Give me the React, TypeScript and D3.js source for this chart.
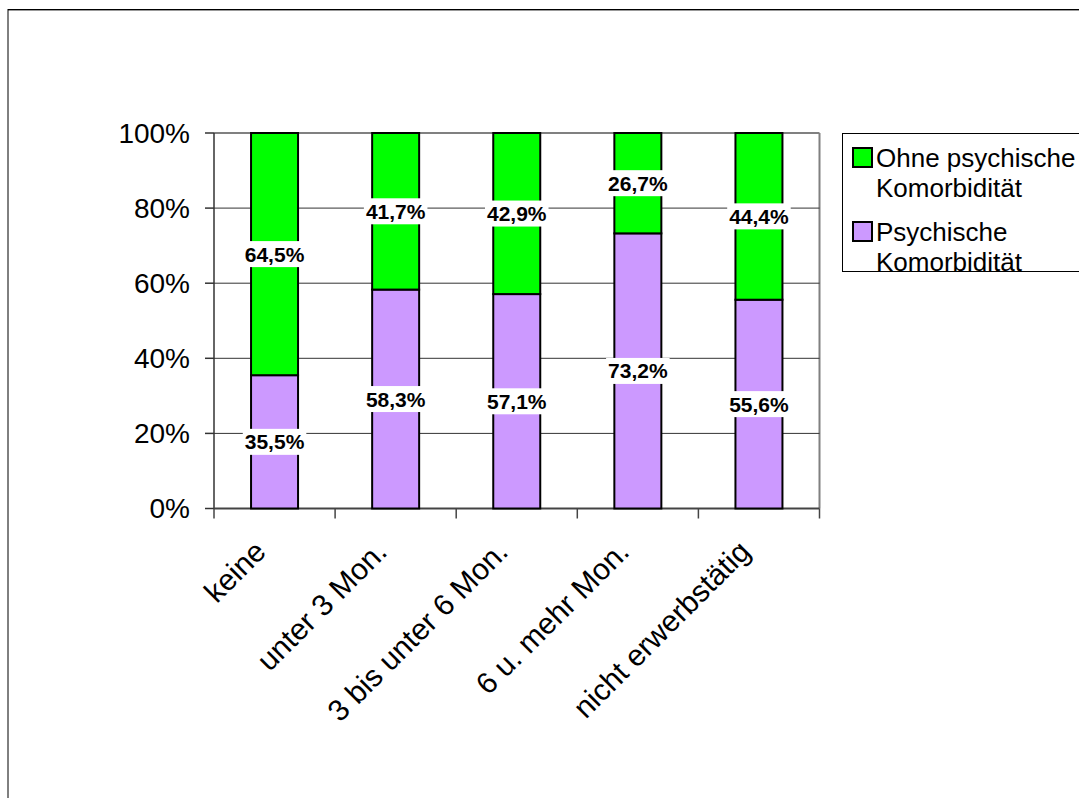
import React from "react";
import * as d3 from "d3";

// Employment interruption categories and the share of each comorbidity group (%)
const categories = ["keine", "unter 3 Mon.", "3 bis unter 6 Mon.", "6 u. mehr Mon.", "nicht erwerbstätig"];
const psychische = [35.5, 58.3, 57.1, 73.2, 55.6];
const ohnePsychische = [64.5, 41.7, 42.9, 26.7, 44.4];
const yTicks = [0, 20, 40, 60, 80, 100];

const seriesNames = ["Psychische Komorbidität", "Ohne psychische Komorbidität"];
const seriesColors = ["#CC99FF", "#00FF00"];

const W = 1079;
const H = 798;
const FONT = "'Liberation Sans', Arial, sans-serif";

const plot = { left: 214, right: 819.5, top: 133, bottom: 508.5 };

export default function App() {
  const x = d3.scaleBand<string>().domain(categories).range([plot.left, plot.right]).paddingInner(0).paddingOuter(0);
  const y = d3.scaleLinear().domain([0, 100]).range([plot.bottom, plot.top]);

  // 100% stacked: normalise each category to its total
  const rows = categories.map((c, i) => {
    const total = psychische[i] + ohnePsychische[i];
    return { cat: c, p: (psychische[i] / total) * 100, o: (ohnePsychische[i] / total) * 100 };
  });
  const stack = d3.stack<any>().keys(["p", "o"])(rows);
  const values = [psychische, ohnePsychische];

  const bw = 47;
  const labelFont = 21;

  const fmt = (v: number) => v.toFixed(1).replace(".", ",") + "%";

  const legendItems = [
    { color: seriesColors[1], lines: ["Ohne psychische", "Komorbidität"] },
    { color: seriesColors[0], lines: ["Psychische", "Komorbidität"] },
  ];

  return (
    <svg width={W} height={H} style={{ display: "block", position: "absolute", left: 0, top: 0 }} fontFamily={FONT}>
      <rect x={0} y={0} width={W} height={H} fill="#fff" />
      {/* outer chart frame */}
      <line x1={8} y1={10.5} x2={W} y2={10.5} stroke="#999" strokeWidth={1} />
      <line x1={8} y1={9.5} x2={W} y2={9.5} stroke="#000" strokeWidth={1} />
      <line x1={8} y1={9} x2={8} y2={H} stroke="#000" strokeWidth={1} />

      {/* plot area border */}
      <line x1={plot.left} y1={plot.top} x2={plot.right} y2={plot.top} stroke="#808080" strokeWidth={2} />
      <line x1={plot.right} y1={plot.top} x2={plot.right} y2={plot.bottom} stroke="#808080" strokeWidth={2} />

      {/* gridlines and y axis */}
      {yTicks.map((t) => (
        <g key={t}>
          {t > 0 && t < 100 && (
            <line x1={plot.left} x2={plot.right} y1={y(t)} y2={y(t)} stroke="#333" strokeWidth={1} />
          )}
          <line x1={205} x2={plot.left} y1={y(t)} y2={y(t)} stroke="#333" strokeWidth={1.5} />
          <text x={190} y={y(t)} dy="0.35em" textAnchor="end" fontSize={28} fill="#000">
            {t}%
          </text>
        </g>
      ))}
      <line x1={plot.left} x2={plot.left} y1={plot.top} y2={plot.bottom} stroke="#333" strokeWidth={1.5} />
      <line x1={plot.left} x2={plot.right} y1={plot.bottom} y2={plot.bottom} stroke="#444" strokeWidth={2} />
      {d3.range(categories.length + 1).map((i) => {
        const xx = plot.left + i * x.bandwidth();
        return <line key={i} x1={xx} x2={xx} y1={plot.bottom} y2={plot.bottom + 10} stroke="#444" strokeWidth={1.5} />;
      })}

      {/* bars */}
      {stack.map((layer, si) => (
        <g key={si}>
          {layer.map((d, i) => {
            const cx = (x(categories[i]) as number) + x.bandwidth() / 2;
            return (
              <rect
                key={i}
                x={cx - bw / 2}
                y={y(d[1])}
                width={bw}
                height={y(d[0]) - y(d[1])}
                fill={seriesColors[si]}
                stroke="#000"
                strokeWidth={2}
              />
            );
          })}
        </g>
      ))}

      {/* value labels */}
      {stack.map((layer, si) =>
        layer.map((d, i) => {
          const cx = (x(categories[i]) as number) + x.bandwidth() / 2;
          const cy = y((d[0] + d[1]) / 2);
          const txt = fmt(values[si][i]);
          const tw = txt.length * 0.567 * labelFont;
          return (
            <g key={`${si}-${i}`}>
              <rect x={cx - tw / 2 - 2} y={cy - 13} width={tw + 4} height={26} fill="#fff" />
              <text x={cx} y={cy} dy="0.36em" textAnchor="middle" fontSize={labelFont} fontWeight="bold" fill="#000">
                {txt}
              </text>
            </g>
          );
        })
      )}

      {/* category labels */}
      {categories.map((c) => {
        const cx = (x(c) as number) + x.bandwidth() / 2;
        const px = cx - 7;
        const py = plot.bottom + 45;
        return (
          <text key={c} x={px} y={py} textAnchor="end" fontSize={30} fill="#000" transform={`rotate(-45 ${px} ${py})`}>
            {c}
          </text>
        );
      })}

      {/* legend */}
      <rect x={842.5} y={133.5} width={260} height={138} fill="#fff" stroke="#000" strokeWidth={1} />
      {legendItems.map((it, i) => {
        const top = 148 + i * 74;
        return (
          <g key={i}>
            <rect x={853} y={top} width={19} height={19} fill={it.color} stroke="#000" strokeWidth={2} />
            {it.lines.map((ln, j) => (
              <text key={j} x={876} y={top + 9.5 + j * 30} dy="0.35em" fontSize={26} fill="#000">
                {ln}
              </text>
            ))}
          </g>
        );
      })}
    </svg>
  );
}
